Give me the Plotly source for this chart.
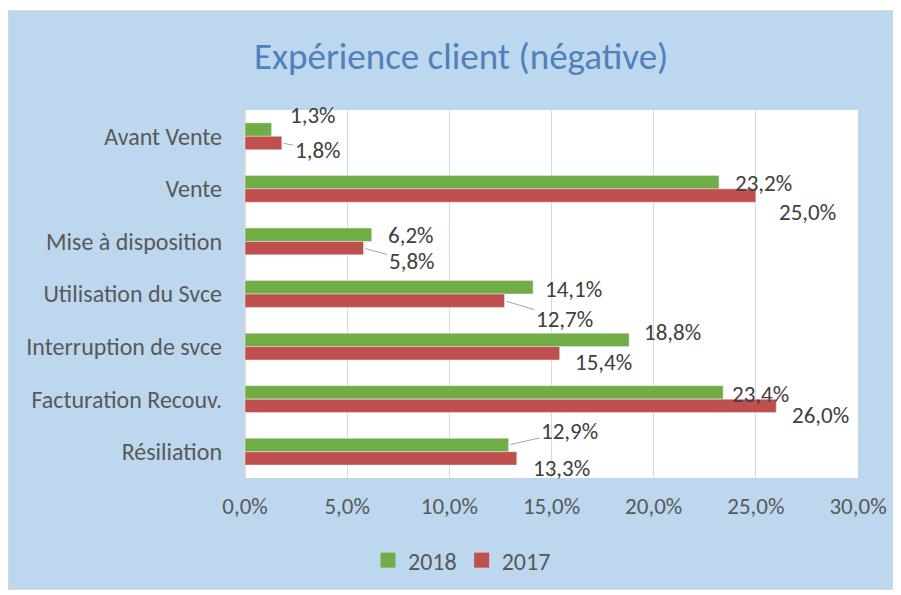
import plotly.graph_objects as go

# ---- data ----
categories = ["Avant Vente", "Vente", "Mise à disposition", "Utilisation du Svce",
              "Interruption de svce", "Facturation Recouv.", "Résiliation"]
values_2018 = [1.3, 23.2, 6.2, 14.1, 18.8, 23.4, 12.9]
values_2017 = [1.8, 25.0, 5.8, 12.7, 15.4, 26.0, 13.3]
x_ticks = [0, 5, 10, 15, 20, 25, 30]
series_names = ["2018", "2017"]
title_text = "Expérience client (négative)"

# ---- style ----
GREEN = "#70AD47"
RED = "#C0504D"
BG = "#BDD7EE"
TXT = "#595959"
LBL = "#404040"
FONT = "Carlito, Lato, sans-serif"

# page body margin is 8px; figure placed at (8,8) on page
PX0, PY0 = 8, 8
L, T = 245 - PX0, 110 - PY0          # plot-area left/top inside figure
PW, PH = 613, 370                    # plot-area size
W, H = 901 - PX0, 595 - PY0

def px_x(page_x):
    return (page_x - 245) / PW

def px_y(page_y):
    return (480 - page_y) / PH

# label offsets (pixels) relative to bar end, and whether a leader line is drawn
off_2018 = [(41, -15), (44, 1), (39, 0), (40, 2), (43, -8), (37, 2), (61, -14)]
lead_2018 = [False, False, False, False, False, False, True]
off_2017 = [(36, 7), (52, 16), (48, 13), (60, 18), (44, 9), (44, 9), (45, 10)]
lead_2017 = [True, False, True, True, False, False, False]

fig = go.Figure()
fig.add_trace(go.Bar(name=series_names[0], y=categories, x=values_2018, orientation="h",
                     marker_color=GREEN, offsetgroup="a", showlegend=False))
fig.add_trace(go.Bar(name=series_names[1], y=categories, x=values_2017, orientation="h",
                     marker_color=RED, offsetgroup="b", showlegend=False))
# legend entries with larger square swatches
for name, col in zip(series_names, [GREEN, RED]):
    fig.add_trace(go.Scatter(name=name, x=[None], y=[None], mode="markers",
                             marker=dict(symbol="square", size=15, color=col),
                             showlegend=True, hoverinfo="skip"))

def fmt(v):
    return f"{v:.1f}".replace(".", ",") + "%"

annotations = []
bargap = 0.49
half = (1 - bargap) / 4.0
LBL_SIZE = 23
for series, offs, leads, shift in [(values_2018, off_2018, lead_2018, -half),
                                   (values_2017, off_2017, lead_2017, half)]:
    for i, v in enumerate(series):
        dx, dy = offs[i]
        if leads[i]:
            annotations.append(dict(
                x=v, y=i + shift, xref="x", yref="y", text=fmt(v),
                showarrow=True, arrowhead=0, arrowwidth=1, arrowcolor="#A6A6A6",
                ax=dx, ay=dy, standoff=2, startstandoff=0,
                font=dict(family=FONT, size=LBL_SIZE, color=LBL)))
        else:
            annotations.append(dict(
                x=v, y=i + shift, xref="x", yref="y", text=fmt(v),
                showarrow=False, xanchor="center", yanchor="middle",
                xshift=dx, yshift=-dy,
                font=dict(family=FONT, size=LBL_SIZE, color=LBL)))

annotations.append(dict(text=title_text, xref="paper", yref="paper",
                        x=px_x(461), y=px_y(56),
                        xanchor="center", yanchor="middle", showarrow=False,
                        font=dict(family=FONT, size=37, color="#4F81BD")))

shapes = [
    dict(type="rect", xref="paper", yref="paper", layer="below",
         x0=px_x(8), x1=px_x(893), y0=px_y(592), y1=px_y(10),
         fillcolor=BG, line=dict(color="#D9D9D9", width=1)),
    dict(type="rect", xref="paper", yref="paper", layer="below",
         x0=0, x1=1, y0=0, y1=1, fillcolor="white", line=dict(width=0)),
]

fig.update_layout(
    width=W, height=H,
    margin=dict(l=L, r=W - L - PW, t=T, b=H - T - PH),
    paper_bgcolor="white", plot_bgcolor="white",
    barmode="group", bargap=bargap, bargroupgap=0,
    font=dict(family=FONT, size=23, color=TXT),
    showlegend=True,
    legend=dict(orientation="h", x=px_x(462), y=px_y(563),
                xanchor="center", yanchor="middle",
                font=dict(family=FONT, size=24, color=TXT),
                bgcolor="rgba(0,0,0,0)", traceorder="normal"),
    annotations=annotations, shapes=shapes,
)
fig.update_xaxes(range=[0, 30], tickvals=x_ticks,
                 ticktext=[f"{t:.1f}".replace(".", ",") + "%" for t in x_ticks],
                 showgrid=True, gridcolor="#D9D9D9", gridwidth=1,
                 zeroline=True, zerolinecolor="#D9D9D9", showline=False,
                 ticks="", ticklabelstandoff=12,
                 tickfont=dict(family=FONT, size=23, color=TXT))
fig.update_yaxes(autorange="reversed", showgrid=False, ticks="",
                 ticklabelstandoff=22, showline=False, zeroline=False,
                 tickfont=dict(family=FONT, size=24, color=TXT))

fig.write_html("out.html")
